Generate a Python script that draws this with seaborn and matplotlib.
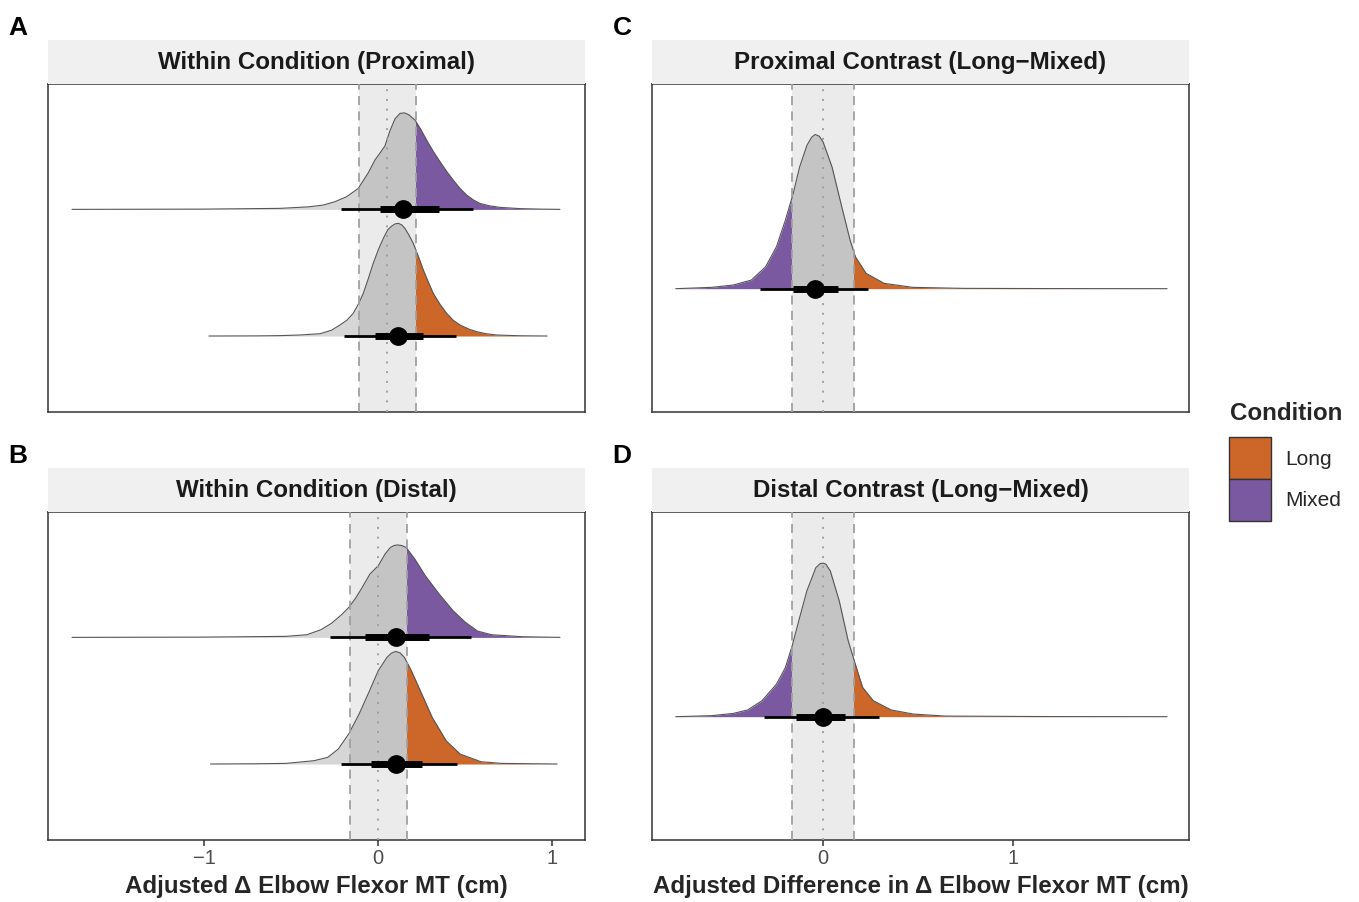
"""Posterior half-eye plots of adjusted change in elbow flexor MT (within / contrast)."""

import numpy as np
import pandas as pd
import seaborn as sns
import matplotlib.pyplot as plt
from matplotlib.patches import Rectangle

sns.set_theme(style="white")
plt.rcParams["font.family"] = ["Liberation Sans", "DejaVu Sans"]

PURPLE = "#7B59A0"
ORANGE = "#CC6629"
GRAY_IN = "#C4C4C4"
GRAY_OUT = "#D6D6D6"
ROPE_FILL = "#EBEBEB"

# ---- data: x grid and slab height for each posterior ----
A_MIXED_X = [-1.76, -1.0, -0.565, -0.40, -0.316, -0.25, -0.182, -0.115, -0.057, -0.019,
             0.010, 0.038, 0.067, 0.096, 0.125, 0.150, 0.175, 0.211, 0.245, 0.278, 0.315,
             0.355, 0.393, 0.431, 0.470, 0.508, 0.546, 0.584, 0.64, 0.699, 0.814, 0.93, 1.044]
A_MIXED_H = [0.0, 0.002, 0.008, 0.02, 0.034, 0.06, 0.10, 0.165, 0.29, 0.39,
             0.445, 0.50, 0.62, 0.715, 0.758, 0.762, 0.748, 0.705, 0.63, 0.547, 0.46,
             0.376, 0.30, 0.231, 0.165, 0.113, 0.075, 0.047, 0.028, 0.016, 0.006, 0.002, 0.0]
A_LONG_X = [-0.973, -0.70, -0.565, -0.45, -0.335, -0.27, -0.22, -0.18, -0.144, -0.115, -0.086,
            -0.058, -0.029, 0.0, 0.029, 0.055, 0.077, 0.096, 0.115, 0.134, 0.153, 0.175, 0.201,
            0.23, 0.259, 0.288, 0.316, 0.355, 0.393, 0.43, 0.47, 0.52, 0.566, 0.62, 0.68, 0.814, 0.97]
A_LONG_H = [0.0, 0.001, 0.003, 0.008, 0.018, 0.045, 0.087, 0.125, 0.179, 0.25, 0.337,
            0.45, 0.574, 0.68, 0.771, 0.84, 0.868, 0.885, 0.89, 0.878, 0.85, 0.80, 0.732,
            0.63, 0.521, 0.425, 0.337, 0.25, 0.179, 0.125, 0.087, 0.055, 0.034, 0.018, 0.008, 0.002, 0.0]

B_MIXED_X = [-1.76, -1.0, -0.53, -0.41, -0.33, -0.27, -0.21, -0.169, -0.13, -0.09, -0.048, 0.0,
             0.04, 0.07, 0.09, 0.11, 0.135, 0.16, 0.21, 0.27, 0.35, 0.43, 0.50, 0.57, 0.65,
             0.83, 1.044]
B_MIXED_H = [0.0, 0.002, 0.008, 0.021, 0.06, 0.11, 0.18, 0.237, 0.31, 0.40, 0.5, 0.566,
             0.66, 0.71, 0.725, 0.73, 0.725, 0.71, 0.618, 0.487, 0.342, 0.21, 0.12, 0.05, 0.021,
             0.005, 0.0]
B_LONG_X = [-0.964, -0.70, -0.53, -0.37, -0.29, -0.23, -0.17, -0.11, -0.05, 0.0, 0.05, 0.075,
            0.10, 0.125, 0.15, 0.19, 0.25, 0.31, 0.39, 0.47, 0.59, 0.71, 1.028]
B_LONG_H = [0.0, 0.002, 0.005, 0.026, 0.053, 0.118, 0.237, 0.395, 0.579, 0.737, 0.842, 0.875,
            0.889, 0.878, 0.842, 0.737, 0.553, 0.368, 0.184, 0.079, 0.018, 0.005, 0.0]

C_X = [-0.774, -0.585, -0.472, -0.377, -0.302, -0.245, -0.198, -0.157, -0.123, -0.085, -0.06,
       -0.042, -0.02, 0.0, 0.047, 0.094, 0.142, 0.17, 0.226, 0.321, 0.472, 0.736, 1.2, 1.808]
C_H = [0.0, 0.0065, 0.018, 0.042, 0.107, 0.205, 0.335, 0.465, 0.595, 0.70, 0.74,
       0.753, 0.745, 0.717, 0.595, 0.416, 0.237, 0.156, 0.075, 0.026, 0.0065, 0.0016, 0.0005, 0.0]
D_X = [-0.774, -0.585, -0.472, -0.396, -0.321, -0.245, -0.198, -0.16, -0.123, -0.085, -0.038,
       -0.015, 0.0, 0.015, 0.038, 0.085, 0.132, 0.164, 0.208, 0.264, 0.358, 0.472, 0.642, 1.2, 1.808]
D_H = [0.0, 0.005, 0.016, 0.033, 0.078, 0.159, 0.24, 0.354, 0.485, 0.615, 0.728,
       0.748, 0.75, 0.745, 0.712, 0.566, 0.371, 0.273, 0.143, 0.078, 0.033, 0.013, 0.003, 0.0005, 0.0]

# point estimate, 66% and 95% intervals
A_MIXED_INT = [0.140, 0.010, 0.351, -0.214, 0.546]
A_LONG_INT = [0.115, -0.019, 0.259, -0.197, 0.447]
B_MIXED_INT = [0.100, -0.076, 0.290, -0.278, 0.530]
B_LONG_INT = [0.100, -0.042, 0.254, -0.217, 0.450]
C_INT = [-0.042, -0.160, 0.079, -0.330, 0.236]
D_INT = [0.000, -0.142, 0.117, -0.311, 0.292]

ROPES = {"A": (-0.111, 0.217, 0.053), "B": (-0.163, 0.163, 0.0),
         "C": (-0.163, 0.163, 0.0), "D": (-0.163, 0.163, 0.0)}
TITLES = {"A": "Within Condition (Proximal)", "B": "Within Condition (Distal)",
          "C": "Proximal Contrast (Long\u2212Mixed)", "D": "Distal Contrast (Long\u2212Mixed)"}
LEGEND_LABELS = ["Long", "Mixed"]
LEGEND_COLORS = [ORANGE, PURPLE]

W, H = 1359, 902
fig = plt.figure(figsize=(W / 100, H / 100), dpi=100)


def fx(px):
    return px / W


def fy(py):
    return 1 - py / H


def slab(ax, xs, hs, base, rope, left_col, right_col):
    lo, hi = rope[0], rope[1]
    xs = np.asarray(xs)
    ys = base + np.asarray(hs)
    for x0, x1, col in [(-5, lo, left_col), (lo, hi, GRAY_IN), (hi, 5, right_col)]:
        poly = ax.fill_between(xs, base, ys, color=col, lw=0, zorder=2)
        clip = Rectangle((x0, base - 0.1), x1 - x0, 3, transform=ax.transData)
        poly.set_clip_path(clip)
    df = pd.DataFrame({"x": xs, "y": ys})
    sns.lineplot(data=df, x="x", y="y", ax=ax, color="#555555", lw=0.8, zorder=3)


def interval(ax, vals, base):
    pt, t_lo, t_hi, w_lo, w_hi = vals
    ax.plot([w_lo, w_hi], [base, base], color="black", lw=2.0, solid_capstyle="butt", zorder=5)
    ax.plot([t_lo, t_hi], [base, base], color="black", lw=5.0, solid_capstyle="butt", zorder=5)
    ax.plot([pt], [base], "o", color="black", ms=12.5, zorder=6)


panels = {
    "A": dict(rect=(48, 84), xlim=(-1.898, 1.188), ylim=(0.404, 2.99), ticks=None),
    "B": dict(rect=(48, 512), xlim=(-1.898, 1.188), ylim=(0.404, 2.99), ticks=[-1, 0, 1]),
    "C": dict(rect=(652, 84), xlim=(-0.899, 1.923), ylim=(0.4, 2.0), ticks=None),
    "D": dict(rect=(652, 512), xlim=(-0.899, 1.923), ylim=(0.4, 2.0), ticks=[0, 1]),
}
PW, PH, SH = 537, 327.5, 44

for key, p in panels.items():
    left, top = p["rect"]
    ax = fig.add_axes([fx(left), fy(top + PH), PW / W, PH / H])
    rope = ROPES[key]
    ax.axvspan(rope[0], rope[1], color=ROPE_FILL, lw=0, zorder=0)

    if key == "A":
        slab(ax, A_MIXED_X, A_MIXED_H, 2, rope, GRAY_OUT, PURPLE)
        slab(ax, A_LONG_X, A_LONG_H, 1, rope, GRAY_OUT, ORANGE)
        interval(ax, A_MIXED_INT, 2)
        interval(ax, A_LONG_INT, 1)
    elif key == "B":
        slab(ax, B_MIXED_X, B_MIXED_H, 2, rope, GRAY_OUT, PURPLE)
        slab(ax, B_LONG_X, B_LONG_H, 1, rope, GRAY_OUT, ORANGE)
        interval(ax, B_MIXED_INT, 2)
        interval(ax, B_LONG_INT, 1)
    elif key == "C":
        slab(ax, C_X, C_H, 1, rope, PURPLE, ORANGE)
        interval(ax, C_INT, 1)
    else:
        slab(ax, D_X, D_H, 1, rope, PURPLE, ORANGE)
        interval(ax, D_INT, 1)

    for xv in rope[:2]:
        ax.axvline(xv, color="#A0A0A0", lw=1.3, ls=(0, (5, 3.5)), zorder=4)
    ax.axvline(rope[2], color="#A0A0A0", lw=1.4, ls=(0, (1, 4)), zorder=4)

    ax.set_yticks([])
    ax.set_ylabel("")
    ax.set_xlabel("")
    for s in ax.spines.values():
        s.set_color("#333333")
        s.set_linewidth(1.1)
    if p["ticks"]:
        ax.set_xticks(p["ticks"])
        ax.set_xticklabels([str(t).replace("-", "\u2212") for t in p["ticks"]])
        ax.tick_params(axis="x", bottom=True, length=4, width=1.1, color="#333333",
                       labelsize=14.5, labelcolor="#4D4D4D", pad=3)
    else:
        ax.set_xticks([])
    ax.set_xlim(*p["xlim"])
    ax.set_ylim(*p["ylim"])

    # facet strip
    sax = fig.add_axes([fx(left), fy(top), PW / W, SH / H])
    sax.set_facecolor("#F0F0F0")
    for s in sax.spines.values():
        s.set_visible(False)
    sax.set_xticks([])
    sax.set_yticks([])
    sax.text(0.5, 0.5, TITLES[key], ha="center", va="center", fontsize=17.4,
             fontweight="bold", color="#1A1A1A", transform=sax.transAxes)

    # panel letter
    fig.text(fx(18 if left < 300 else 622), fy(top - 56), key, ha="center", va="center",
             fontsize=19, fontweight="bold", color="black")

fig.text(fx(316.5), fy(886), "Adjusted \u0394 Elbow Flexor MT (cm)", ha="center",
         va="center", fontsize=17.4, fontweight="bold")
fig.text(fx(920.5), fy(886), "Adjusted Difference in \u0394 Elbow Flexor MT (cm)",
         ha="center", va="center", fontsize=17.4, fontweight="bold")

# legend (drawn as in ggplot: stacked key boxes)
fig.text(fx(1230), fy(413), "Condition", ha="left", va="center", fontsize=17.4,
         fontweight="bold")
for i, (lab, col) in enumerate(zip(LEGEND_LABELS, LEGEND_COLORS)):
    y_top = 437 + 42 * i
    fig.add_artist(Rectangle((fx(1229), fy(y_top + 42)), 42 / W, 42 / H,
                             transform=fig.transFigure, facecolor=col,
                             edgecolor="#333333", lw=1.0))
    fig.text(fx(1285), fy(y_top + 22), lab, ha="left", va="center", fontsize=15)

fig.savefig("out.png", dpi=100)
